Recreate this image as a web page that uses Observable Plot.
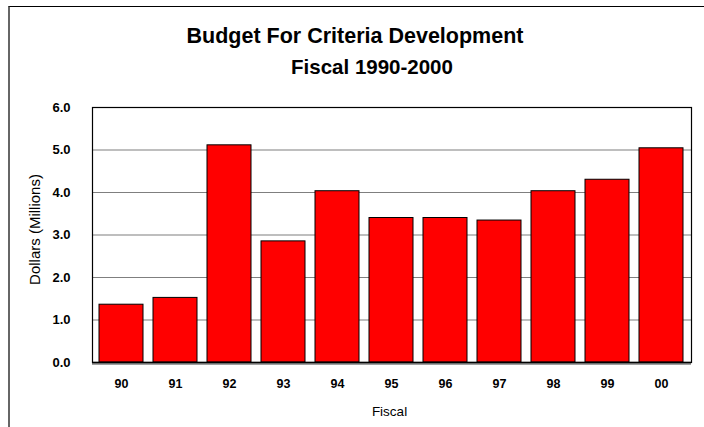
<!DOCTYPE html>
<html>
<head>
<meta charset="utf-8">
<script src="https://cdn.jsdelivr.net/npm/d3@7"></script>
<script src="https://cdn.jsdelivr.net/npm/@observablehq/plot@0.6"></script>
<style>
  html, body { margin: 0; padding: 0; background: #fff; }
  #wrap { position: relative; width: 704px; height: 427px; overflow: hidden; }
  #border { position: absolute; left: 8px; top: 6px; width: 760px; height: 480px;
            border-top: 1px solid #000; border-left: 2px solid #666; }
  #chart { position: absolute; left: 0; top: 0; }
</style>
</head>
<body>
<div id="wrap">
  <div id="border"></div>
  <div id="chart"></div>
</div>
<script>
const title = "Budget For Criteria Development";
const subtitle = "Fiscal 1990-2000";
const xLabel = "Fiscal";
const yLabel = "Dollars (Millions)";
const years = ["90", "91", "92", "93", "94", "95", "96", "97", "98", "99", "00"];
const budget = [1.36, 1.52, 5.11, 2.85, 4.03, 3.40, 3.40, 3.34, 4.03, 4.30, 5.04];
const yTicks = [0, 1, 2, 3, 4, 5, 6];

const data = years.map((year, i) => ({ year, value: budget[i] }));
const font = "'Liberation Sans', Arial, Helvetica, sans-serif";

const chart = Plot.plot({
  width: 704,
  height: 427,
  marginLeft: 92,
  marginRight: 13,
  marginTop: 107,
  marginBottom: 65,
  style: { fontFamily: font, background: "transparent", overflow: "visible" },
  x: { type: "band", domain: years, paddingInner: 0.18, paddingOuter: 0.1, label: null },
  y: { domain: [0, 6], label: null },
  marks: [
    Plot.gridY(yTicks.slice(1, -1), { stroke: "#7f7f7f", strokeOpacity: 1, strokeWidth: 1.2 }),
    Plot.ruleY([0], { stroke: "#a0a0a0", strokeWidth: 2, dy: 1.5 }),
    Plot.barY(data, { x: "year", y: "value", fill: "#ff0000", stroke: "#000", strokeWidth: 1 }),
    Plot.frame({ stroke: "#000", strokeWidth: 1.2 }),
    Plot.ruleY([0], { stroke: "#000", strokeWidth: 1.5 }),
    Plot.axisY(yTicks, {
      tickSize: 0, tickPadding: 22, tickFormat: d => d.toFixed(1),
      fontWeight: "bold", fontSize: 13, fill: "#000", label: null
    }),
    Plot.axisX({
      tickSize: 0, tickPadding: 17, fontWeight: "bold", fontSize: 12.5, fill: "#000", label: null
    }),
    Plot.text([title], {
      frameAnchor: "top", textAnchor: "middle", lineAnchor: "middle", dx: -37, dy: -71,
      fontSize: 21.5, fontWeight: "bold", fill: "#000"
    }),
    Plot.text([subtitle], {
      frameAnchor: "top", textAnchor: "middle", lineAnchor: "middle", dx: -20, dy: -40,
      fontSize: 20.5, fontWeight: "bold", fill: "#000"
    }),
    Plot.text([yLabel], {
      frameAnchor: "left", textAnchor: "middle", lineAnchor: "middle", rotate: -90, dx: -57, dy: -5.5,
      fontSize: 15, fill: "#000"
    }),
    Plot.text([xLabel], {
      frameAnchor: "bottom", textAnchor: "middle", lineAnchor: "middle", dx: -2.5, dy: 49,
      fontSize: 13.5, fill: "#000"
    })
  ]
});
document.getElementById("chart").appendChild(chart);
</script>
</body>
</html>
